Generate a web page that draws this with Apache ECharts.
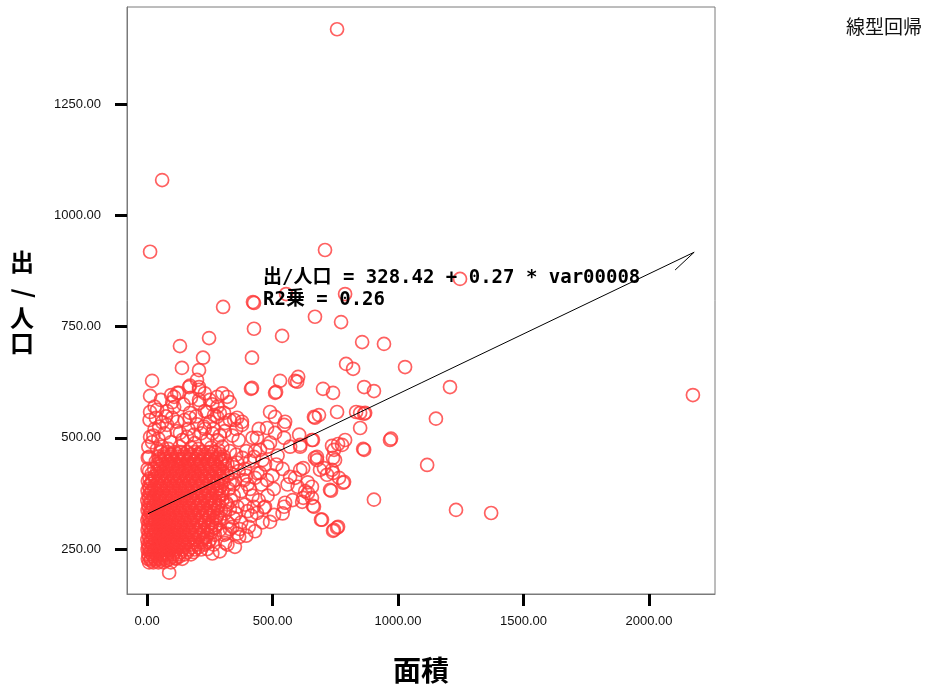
<!DOCTYPE html>
<html>
<head>
<meta charset="utf-8">
<script src="https://cdn.jsdelivr.net/npm/echarts@6/dist/echarts.min.js"></script>
<style>
  html, body { margin: 0; padding: 0; background: #fff; }
  #chart { width: 939px; height: 688px; }
</style>
</head>
<body>
<div id="chart"></div>
<script>
// 面積 (x) vs 出/人口 (y): each entry is [面積, 出/人口]
const coreCluster = [
  [55,468],[80,468],[110,468],[135,468],[160,468],[190,468],[215,468],[245,468],[270,468],
  [45,458],[70,458],[95,458],[120,458],[150,458],[175,458],[200,458],[230,458],[255,458],[285,458],[305,458],
  [35,447],[60,447],[85,447],[105,447],[130,447],[160,447],[185,447],[210,447],[240,447],[265,447],[295,447],
  [50,436],[75,436],[100,436],[125,436],[150,436],[170,436],[200,436],[225,436],[250,436],[280,436],[310,436],
  [40,425],[65,425],[90,425],[115,425],[140,425],[165,425],[190,425],[215,425],[240,425],[270,425],[300,425],
  [30,414],[55,414],[80,414],[105,414],[130,414],[155,414],[180,414],[205,414],[230,414],[260,414],[290,414],
  [3,403],[20,403],[45,403],[70,403],[95,403],[120,403],[145,403],[170,403],[195,403],[220,403],[250,403],[280,403],[305,403],
  [8,392],[30,392],[55,392],[80,392],[105,392],[130,392],[155,392],[180,392],[210,392],[235,392],[265,392],[295,392],
  [2,381],[18,381],[40,381],[65,381],[90,381],[115,381],[140,381],[165,381],[190,381],[220,381],[245,381],[275,381],[300,381],
  [6,370],[28,370],[50,370],[75,370],[100,370],[125,370],[150,370],[175,370],[205,370],[230,370],[260,370],[290,370],
  [1,359],[15,359],[38,359],[60,359],[85,359],[110,359],[135,359],[160,359],[185,359],[215,359],[240,359],[270,359],[300,359],
  [5,348],[25,348],[48,348],[70,348],[95,348],[120,348],[145,348],[170,348],[200,348],[225,348],[255,348],[285,348],
  [2,337],[14,337],[35,337],[58,337],[80,337],[105,337],[130,337],[155,337],[180,337],[210,337],[235,337],[265,337],[295,337],
  [7,326],[24,326],[45,326],[68,326],[90,326],[115,326],[140,326],[165,326],[190,326],[220,326],[250,326],[280,326],
  [1,315],[12,315],[33,315],[55,315],[78,315],[100,315],[125,315],[150,315],[175,315],[200,315],[230,315],[260,315],[290,315],
  [5,304],[22,304],[42,304],[65,304],[88,304],[110,304],[135,304],[160,304],[185,304],[215,304],[245,304],[275,304],
  [2,293],[15,293],[35,293],[55,293],[75,293],[98,293],[120,293],[145,293],[170,293],[195,293],[225,293],[255,293],[290,293],
  [6,282],[25,282],[45,282],[65,282],[85,282],[108,282],[130,282],[155,282],[180,282],[210,282],[240,282],[270,282],
  [1,271],[14,271],[32,271],[52,271],[72,271],[95,271],[118,271],[140,271],[165,271],[190,271],[220,271],[250,271],
  [4,260],[22,260],[40,260],[60,260],[82,260],[105,260],[128,260],[150,260],[175,260],[200,260],[230,260],[265,260],
  [2,249],[12,249],[30,249],[50,249],[70,249],[92,249],[115,249],[140,249],[165,249],[190,249],[215,249],
  [5,238],[20,238],[38,238],[58,238],[80,238],[102,238],[125,238],[150,238],[175,238],
  [3,228],[15,228],[32,228],[50,228],[70,228],[90,228],[115,228],[140,228],
  [8,220],[25,220],[45,220],[65,220],[95,220]
];

const coreFill = [
  [68,463],[95,463],[122,463],[148,463],[175,463],[203,463],[230,463],[258,463],[290,463],
  [48,452],[72,452],[98,452],[125,452],[140,452],[168,452],[195,452],[222,452],[250,452],[275,452],[300,452],
  [40,441],[62,441],[88,441],[112,441],[138,441],[163,441],[190,441],[215,441],[245,441],[270,441],[300,441],
  [28,430],[52,430],[78,430],[102,430],[128,430],[152,430],[178,430],[205,430],[230,430],[258,430],[288,430],
  [18,419],[42,419],[68,419],[92,419],[118,419],[142,419],[168,419],[192,419],[218,419],[248,419],[278,419],[305,419],
  [10,408],[32,408],[58,408],[82,408],[108,408],[132,408],[158,408],[182,408],[208,408],[235,408],[265,408],[295,408],
  [15,397],[40,397],[65,397],[92,397],[118,397],[142,397],[168,397],[195,397],[222,397],[250,397],[282,397],
  [10,386],[28,386],[52,386],[78,386],[102,386],[128,386],[152,386],[178,386],[205,386],[232,386],[260,386],[288,386],
  [12,375],[35,375],[60,375],[88,375],[112,375],[138,375],[162,375],[192,375],[218,375],[245,375],[275,375],
  [8,364],[25,364],[48,364],[72,364],[98,364],[122,364],[148,364],[172,364],[198,364],[228,364],[255,364],[285,364],
  [12,353],[35,353],[58,353],[82,353],[108,353],[132,353],[158,353],[185,353],[212,353],[240,353],[270,353],
  [8,342],[22,342],[45,342],[68,342],[92,342],[118,342],[142,342],[168,342],[195,342],[222,342],[250,342],[280,342],
  [14,331],[34,331],[56,331],[80,331],[102,331],[128,331],[152,331],[178,331],[205,331],[235,331],[265,331],
  [6,320],[22,320],[44,320],[66,320],[88,320],[112,320],[138,320],[162,320],[188,320],[215,320],[245,320],[275,320],
  [14,309],[32,309],[52,309],[75,309],[98,309],[122,309],[148,309],[172,309],[200,309],[230,309],[260,309],
  [8,298],[25,298],[45,298],[65,298],[86,298],[108,298],[132,298],[158,298],[182,298],[210,298],[240,298],[270,298],
  [15,287],[34,287],[55,287],[75,287],[96,287],[118,287],[142,287],[168,287],[195,287],[225,287],[255,287],
  [8,276],[22,276],[42,276],[62,276],[84,276],[106,276],[128,276],[152,276],[178,276],[205,276],[235,276],
  [12,265],[30,265],[50,265],[70,265],[92,265],[115,265],[138,265],[162,265],[188,265],[215,265],[245,265],
  [6,254],[20,254],[40,254],[60,254],[80,254],[102,254],[125,254],[150,254],[178,254],[205,254],
  [12,243],[28,243],[48,243],[68,243],[90,243],[112,243],[135,243],[160,243],[185,243],
  [8,233],[24,233],[40,233],[60,233],[80,233],[102,233],[128,233],
  [15,224],[35,224],[55,224],[78,224]
];

const coreFringe = [
  [25,505],[45,498],[70,510],[95,490],[118,515],[140,495],[165,520],[190,488],[215,510],[240,495],
  [265,520],[290,505],[60,480],[85,475],[130,480],[175,478],[205,475],[255,478],[285,472],[35,545],
  [75,548],[150,540],[195,548],[230,560],[260,575],[145,575],[100,580],[55,585],[30,570],[175,590],
  [230,600],[250,585],[280,570],[310,515],[330,540],[355,520],[300,600],[330,580],
  [320,440],[335,420],[350,405],[325,385],[345,370],[315,355],[330,340],[355,330],[320,310],[340,300],
  [370,295],[315,285],[380,455],[395,415],[410,385],[430,410],[415,325],[445,360],[400,335],[430,470],
  [460,450],[470,345]
];

const midCluster = [
  [8,457],[8,425],[12,502],[5,480],[20,490],[40,475],
  [167,614],[207,614],[96,596],[120,601],[279,592],[319,592],[418,612],[510,601],[598,626],
  [12,558],[40,563],[80,560],[108,569],[171,556],[207,578],[239,558],[267,551],[307,556],
  [359,545],[378,536],[490,558],[510,547],[550,536],[546,529],[665,547],[685,551],[757,558],
  [849,556],[869,556],[48,525],[80,529],[120,536],[131,511],[159,502],[187,507],[227,525],
  [251,536],[279,547],[311,533],[347,540],[378,529],[438,500],[450,473],[478,522],[510,511],
  [490,489],[546,500],[570,480],[606,507],[610,480],[657,495],[669,455],[677,450],[705,432],
  [717,417],[745,473],[749,450],[777,484],[737,428],[765,410],[789,495],[865,473],[968,495],
  [904,361],[785,401],[729,383],[657,365],[618,356],[665,345],[697,316],[745,293],[757,298],
  [546,345],[550,354],[506,327],[490,311],[438,331],[466,343],[367,277],[307,282],[311,264],
  [227,275],[231,264],[147,264],[112,230],[88,197],[570,412],[610,428],[426,457],[450,421],
  [478,405],[359,444],[386,405],
  [833,558],[865,554],[849,522],[661,495],[610,484],[972,498],[861,475],[737,482],[761,486],
  [741,455],[677,457],[622,432],[689,428],[741,421],[781,399],[733,381],[657,390],[641,376],
  [622,365],[661,347],[693,316],[761,300],[741,291],
  [330,470],[355,462],[340,440],[365,425],[320,415],[390,430],[410,448],[345,395],[375,380],
  [400,395],[420,370],[335,360],[360,345],[390,350],[425,345],[310,330],[345,320],[375,310],
  [405,300],[330,295],[360,285],[395,280],[430,290],[460,310],[480,370],[505,385],[470,440],
  [520,460],[540,430],[560,395],[500,415],[455,395],[440,420],[300,480],[280,495],[260,510],
  [230,520],[200,530],[170,545],[100,545],[60,535],[30,520],[10,540],[3,455],[2,430],
  [290,555],[330,400],[280,385],[300,372],[270,350],[290,320],[320,350],[255,300],[240,330],
  [250,360],[265,400],[285,430],[310,450],[340,505],[365,495],[395,470],[420,500],[445,520],
  [480,480],[515,440],[590,410],[600,390],[630,380],[640,400],[580,360],[540,330],
  [350,255],[320,260],[290,245],[260,240],[240,250]
];

const outliers = [
  [757,1418],[60,1079],[12,918],[709,922],[1247,857],[554,823],[789,823],[303,794],[426,803],
  [422,805],[669,772],[773,760],[426,745],[538,729],[247,724],[131,706],[857,715],[944,711],
  [418,680],[223,680],[139,657],[207,652],[793,666],[821,655],[1028,659],[20,628],[199,630],
  [171,617],[530,628],[602,637],[590,628],[414,610],[701,610],[741,601],[865,614],[904,605],
  [1207,614],[12,594],[108,592],[127,601],[207,608],[207,585],[514,603],[669,545],[1151,543],
  [1116,439],[1231,338],[1371,331],[2175,596]
];

// Linear fit reported on the chart
const intercept = 328.42;
const slope = 0.27;
const fitX = [4, 2180];
// short return stroke at the end of the fitted line
const fitTail = [[2104, 877]];

const xTicks = [0, 500, 1000, 1500, 2000];
const yTicks = [250, 500, 750, 1000, 1250];

const fitLine = fitX.map(x => [x, intercept + slope * x]).concat(fitTail);
const allPoints = coreCluster.concat(coreFill, coreFringe, midCluster, outliers);

const labelFont = '"Liberation Sans", Arial, sans-serif';
const cjkFont = '"Noto Sans CJK JP", "Noto Sans", sans-serif';
const monoFont = '"DejaVu Sans Mono", "Noto Sans CJK JP", monospace';

const chart = echarts.init(document.getElementById('chart'), null, { renderer: 'canvas' });

chart.setOption({
  backgroundColor: '#fff',
  animation: false,
  grid: {
    left: 127, right: 224, top: 7, bottom: 94,
    show: true, borderColor: '#7a7a7a', borderWidth: 1, backgroundColor: 'transparent'
  },
  xAxis: {
    type: 'value',
    min: -80, max: 2263,
    splitLine: { show: false },
    axisLine: { show: true, onZero: false, lineStyle: { color: '#7a7a7a', width: 1 } },
    axisTick: {
      show: true, inside: false, length: 12, customValues: xTicks,
      lineStyle: { color: '#000', width: 3 }
    },
    axisLabel: {
      customValues: xTicks, margin: 21,
      formatter: v => v.toFixed(2),
      fontFamily: labelFont, fontSize: 13, color: '#111'
    }
  },
  yAxis: {
    type: 'value',
    min: 149, max: 1468,
    splitLine: { show: false },
    axisLine: { show: true, onZero: false, lineStyle: { color: '#7a7a7a', width: 1 } },
    axisTick: {
      show: true, inside: false, length: 12, customValues: yTicks,
      lineStyle: { color: '#000', width: 3 }
    },
    axisLabel: {
      customValues: yTicks, margin: 26,
      formatter: v => v.toFixed(2),
      fontFamily: labelFont, fontSize: 13, color: '#111'
    }
  },
  series: [
    {
      type: 'scatter',
      data: allPoints,
      symbol: 'circle',
      symbolSize: 13,
      itemStyle: { color: 'transparent', borderColor: '#ff3838', borderWidth: 1.7 },
      emphasis: { disabled: true },
      z: 2
    },
    {
      type: 'line',
      data: fitLine,
      symbol: 'none',
      lineStyle: { color: '#000', width: 1 },
      emphasis: { disabled: true },
      z: 3
    }
  ],
  graphic: [
    {
      type: 'text', left: 846, top: 17, z: 10,
      style: { text: '線型回帰', font: '19px ' + cjkFont, fill: '#111' }
    },
    {
      type: 'text', left: 263, top: 269, z: 10,
      style: { text: '出/人口 = 328.42 + 0.27 * var00008', font: 'bold 19px ' + monoFont, fill: '#000' }
    },
    {
      type: 'text', left: 263, top: 291, z: 10,
      style: { text: 'R2乗 = 0.26', font: 'bold 19px ' + monoFont, fill: '#000' }
    },
    {
      type: 'text', x: 421, y: 670, z: 10,
      style: { text: '面積', font: 'bold 28px ' + cjkFont, fill: '#000', align: 'center', verticalAlign: 'middle' }
    },
    {
      type: 'group', z: 10,
      children: [
        { type: 'text', x: 22, y: 262, style: { text: '出', font: 'bold 24px ' + cjkFont, fill: '#000', align: 'center', verticalAlign: 'middle' } },
        { type: 'text', x: 22, y: 293, rotation: Math.PI / 2,
          style: { text: '/', font: 'bold 24px ' + cjkFont, fill: '#000', align: 'center', verticalAlign: 'middle' } },
        { type: 'text', x: 22, y: 318, style: { text: '人', font: 'bold 24px ' + cjkFont, fill: '#000', align: 'center', verticalAlign: 'middle' } },
        { type: 'text', x: 22, y: 343, style: { text: '口', font: 'bold 24px ' + cjkFont, fill: '#000', align: 'center', verticalAlign: 'middle' } }
      ]
    }
  ]
});
</script>
</body>
</html>
